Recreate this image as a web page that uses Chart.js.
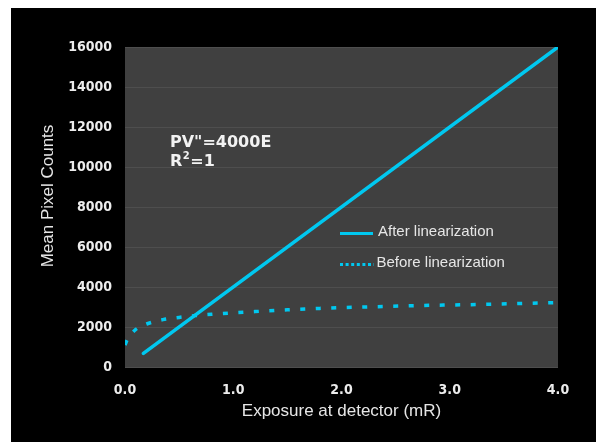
<!DOCTYPE html>
<html>
<head>
<meta charset="utf-8">
<script src="https://cdn.jsdelivr.net/npm/chart.js@4/dist/chart.umd.min.js"></script>
<style>
    html, body { margin: 0; padding: 0; background: #fff; }
    #wrap { position: absolute; left: 11px; top: 8px; width: 585px; height: 434px; background: #000; }
</style>
</head>
<body>
<div id="wrap"><canvas id="myChart" width="585" height="434"></canvas></div>
<script>
// --------------------------- DATA ---------------------------

// after linearization (PV = 4000E)
const afterExposure = [0.17, 4.0];
const afterCounts = [680, 16000];

// before linearization
const beforeExposure = [0, 0.02, 0.05, 0.1, 0.2, 0.35, 0.5, 0.65, 0.8, 0.95, 1.2, 1.5, 1.8, 2.1, 2.4, 2.7, 3.0, 3.3, 3.6, 4.0];
const beforeCounts = [1100, 1350, 1600, 1880, 2150, 2370, 2480, 2570, 2640, 2690, 2770, 2860, 2930, 2985, 3025, 3070, 3100, 3130, 3170, 3220];

const xTicks = [0, 1, 2, 3, 4];
const yTicks = [0, 2000, 4000, 6000, 8000, 10000, 12000, 14000, 16000];

const seriesNames = ['After linearization', 'Before linearization'];
const noteLines = ['PV"=4000E', 'R', '2', '=1'];
const yTitle = 'Mean Pixel Counts';

const cyan = 'rgb(0, 200, 240)';
const tickFont = { family: 'DejaVu Sans Condensed', size: 14, weight: 'bold' };

const toPoints = (xs, ys) => xs.map((x, i) => ({ x: x, y: ys[i] }));

// --------------------------- PLUGINS ---------------------------

// grey plot area behind the lines
const plotBg = {
    id: 'plotBg',
    beforeDraw: (chart) => {
        const { ctx, chartArea: a } = chart;
        ctx.save();
        ctx.fillStyle = '#404040';
        ctx.fillRect(a.left, a.top, a.right - a.left, a.bottom - a.top);
        ctx.restore();
    }
}; // end plotBg

// in-plot legend, equation text and y title (sits a bit above centre)
const notes = {
    id: 'notes',
    afterDraw: (chart) => {
        const ctx = chart.ctx;
        ctx.save();

        // y title
        ctx.save();
        ctx.translate(37, 188);
        ctx.rotate(-Math.PI / 2);
        ctx.fillStyle = '#e6e6e6';
        ctx.font = '17px "Liberation Sans"';
        ctx.textAlign = 'center';
        ctx.textBaseline = 'middle';
        ctx.fillText(yTitle, 0, 0);
        ctx.restore();

        // equation
        ctx.fillStyle = '#f2f2f2';
        ctx.textBaseline = 'alphabetic';
        ctx.font = 'bold 16px "DejaVu Sans"';
        ctx.fillText(noteLines[0], 159, 139);
        ctx.fillText(noteLines[1], 159, 158);
        let w = ctx.measureText(noteLines[1]).width;
        ctx.font = 'bold 10px "DejaVu Sans"';
        ctx.fillText(noteLines[2], 159 + w + 0.5, 151);
        let w2 = ctx.measureText(noteLines[2]).width;
        ctx.font = 'bold 16px "DejaVu Sans"';
        ctx.fillText(noteLines[3], 159 + w + w2 + 1, 158);

        // legend
        ctx.strokeStyle = cyan;
        ctx.lineWidth = 3;
        ctx.beginPath();
        ctx.moveTo(329, 225.5);
        ctx.lineTo(362, 225.5);
        ctx.stroke();

        ctx.setLineDash([3, 2.6]);
        ctx.beginPath();
        ctx.moveTo(329, 256.5);
        ctx.lineTo(363, 256.5);
        ctx.stroke();
        ctx.setLineDash([]);

        ctx.fillStyle = '#e6e6e6';
        ctx.font = '15px "Liberation Sans"';
        ctx.textBaseline = 'middle';
        ctx.fillText(seriesNames[0], 367, 224);
        ctx.fillText(seriesNames[1], 365.5, 255);

        ctx.restore();
    }
}; // end notes

// --------------------------- CHART ---------------------------

let ctx = document.querySelector('#myChart');
let myChart = new Chart(ctx, {
    type: 'line',
    data: {
        datasets: [{
            label: seriesNames[0],
            data: toPoints(afterExposure, afterCounts),
            borderColor: cyan,
            borderWidth: 3.5,
            pointRadius: 0,
            borderCapStyle: 'round'
        }, {
            label: seriesNames[1],
            data: toPoints(beforeExposure, beforeCounts),
            borderColor: cyan,
            borderWidth: 3.5,
            borderDash: [5, 10.5],
            pointRadius: 0,
            cubicInterpolationMode: 'monotone'
        }]
    },
    options: {
        responsive: false,
        animation: false,
        layout: { padding: { top: 39, right: 38, left: 0, bottom: 0 } },
        plugins: { legend: { display: false }, tooltip: { enabled: false } },
        scales: {
            x: {
                type: 'linear',
                min: 0,
                max: 4,
                afterBuildTicks: (s) => { s.ticks = xTicks.map(v => ({ value: v })); },
                afterFit: (s) => { s.height = 75; },
                grid: { display: false, drawTicks: false },
                border: { display: false },
                ticks: {
                    padding: 15,
                    color: '#ececec',
                    font: tickFont,
                    callback: (v) => Number(v).toFixed(1)
                },
                title: {
                    display: true,
                    text: 'Exposure at detector (mR)',
                    color: '#e6e6e6',
                    font: { family: 'Liberation Sans', size: 17 },
                    padding: { top: 0, bottom: 20 }
                }
            },
            y: {
                min: 0,
                max: 16000,
                afterBuildTicks: (s) => { s.ticks = yTicks.map(v => ({ value: v })); },
                afterFit: (s) => { s.width = 114; },
                grid: { color: '#4e4e4e', lineWidth: 1, drawTicks: false },
                border: { display: false },
                ticks: {
                    padding: 13,
                    color: '#ececec',
                    font: tickFont,
                    callback: (v) => String(v)
                }
            }
        }
    },
    plugins: [plotBg, notes]
});
</script>
</body>
</html>
